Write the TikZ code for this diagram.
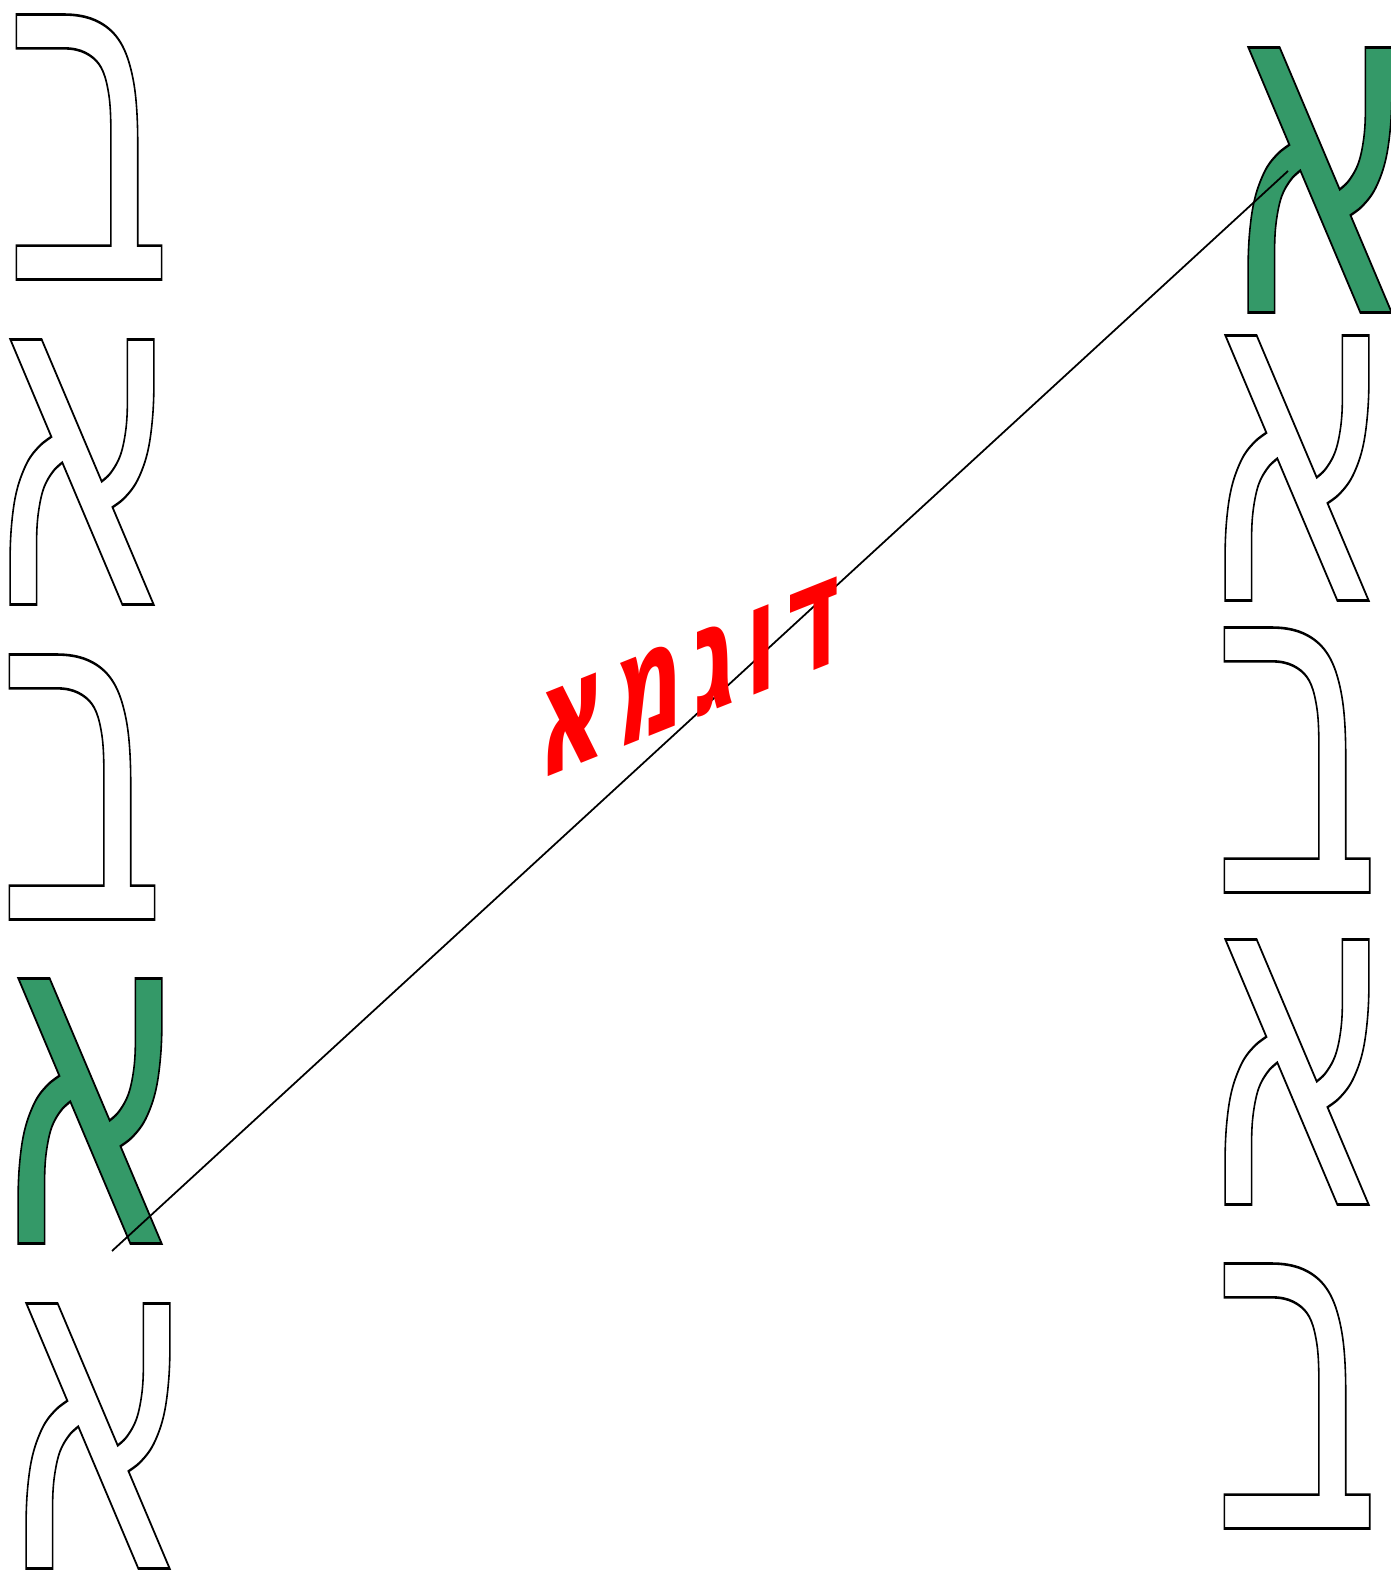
\documentclass[tikz,border=0pt]{standalone}
\usepackage{fontspec}
\TeXXeTstate=1
\newfontfamily\hebfont[Script=Hebrew]{DejaVu Sans}
\definecolor{lettergreen}{RGB}{52,153,104}
% outlined glyph (stroke only) and green-filled glyph with black outline
\newcommand\outl[1]{\special{pdf:code 0 G 1 Tr 0.45 w}#1\special{pdf:code 0 Tr}}
\newcommand\gfill[1]{\textcolor{lettergreen}{\special{pdf:code 0 G 2 Tr 0.45 w}#1\special{pdf:code 0 Tr}}}
\newcommand\lsp{\hspace{2.6pt}}
\tikzset{
  letter/.style={inner sep=0pt, font=\hebfont\fontsize{84}{84}\selectfont, yscale=1.64},
  redlabel/.style={inner sep=0pt, text=red, font=\hebfont\bfseries\fontsize{24}{24}\selectfont, yslant=0.40, xscale=1.1, yscale=1.83},
  connector/.style={line width=0.5pt, black}
}
\begin{document}
\begin{tikzpicture}[x=0.01cm,y=0.01cm]
\useasboundingbox (0,0) rectangle (1391,1572);
% left column
\node[letter] (l1) at (89,1425) {\outl{ב}};
\node[letter] (l2) at (82,1100) {\outl{א}};
\node[letter] (l3) at (82,785) {\outl{ב}};
\node[letter] (l4) at (90,461) {\gfill{א}};
\node[letter] (l5) at (98,136) {\outl{א}};
% right column
\node[letter] (r1) at (1320,1392) {\gfill{א}};
\node[letter] (r2) at (1297,1104) {\outl{א}};
\node[letter] (r3) at (1297,812) {\outl{ב}};
\node[letter] (r4) at (1297,500) {\outl{א}};
\node[letter] (r5) at (1297,176) {\outl{ב}};
% connector
\coordinate (s) at (112,321);
\coordinate (e) at (1288,1401);
\draw[connector] (s) -- (e);
\node[redlabel] (lbl) at (690,894) {\beginR ד\lsp ו\lsp ג\lsp מ\lsp א\endR};
\end{tikzpicture}
\end{document}
